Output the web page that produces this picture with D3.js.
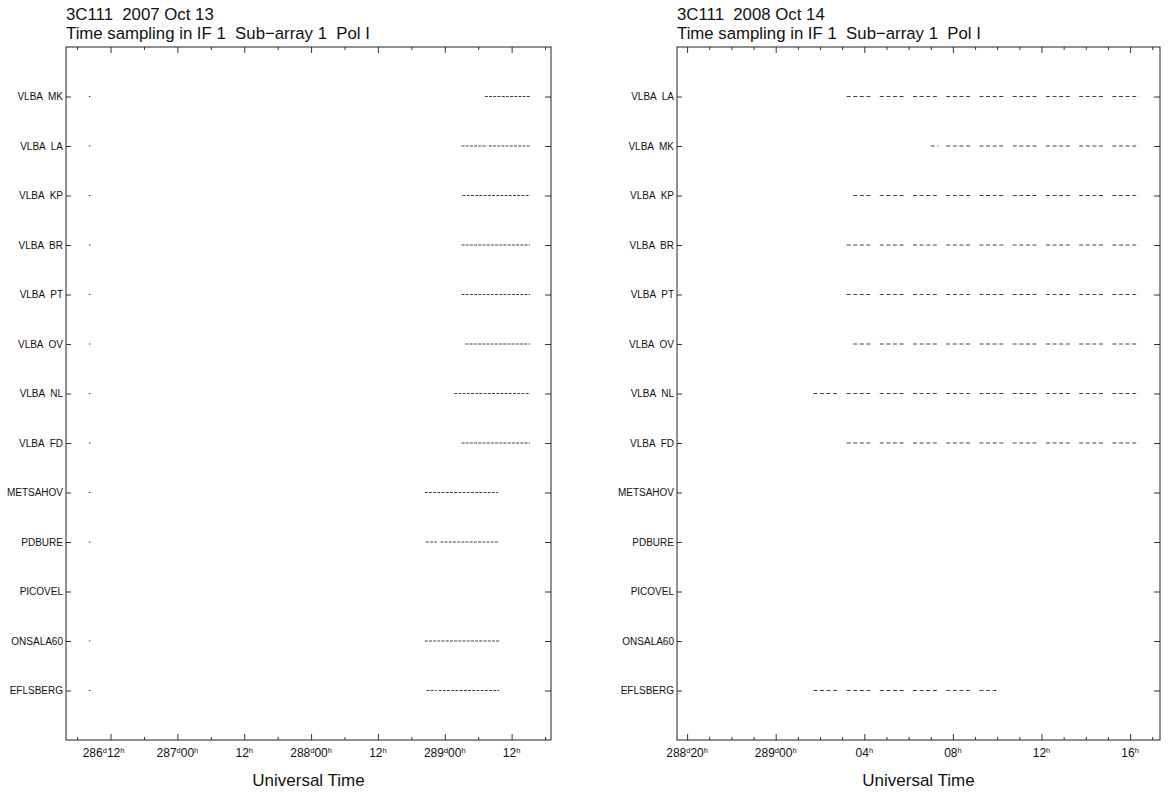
<!DOCTYPE html>
<html>
<head>
<meta charset="utf-8">
<script src="https://cdn.jsdelivr.net/npm/d3@7/dist/d3.min.js"></script>
<style>
body { margin: 0; background: #fff; }
text { font-family: "Liberation Sans", Arial, Helvetica, sans-serif; fill: #111; }
</style>
</head>
<body>
<svg id="chart" width="1171" height="792"></svg>
<script>
// ---- left panel: 2007 Oct 13 (hours counted from day 286 00h) ----
const titles1 = ["3C111  2007 Oct 13", "Time sampling in IF 1  Sub\u2212array 1  Pol I"];
const stations1 = ["VLBA  MK", "VLBA  LA", "VLBA  KP", "VLBA  BR", "VLBA  PT", "VLBA  OV", "VLBA  NL",
                   "VLBA  FD", "METSAHOV", "PDBURE", "PICOVEL", "ONSALA60", "EFLSBERG"];
const scans1 = [
  [[8.1, 8.4], [79.2, 87.3]],
  [[8.1, 8.4], [75.0, 79.6], [79.9, 87.3]],
  [[8.1, 8.4], [75.2, 87.3]],
  [[8.1, 8.4], [75.0, 87.3]],
  [[8.1, 8.4], [75.0, 87.3]],
  [[8.1, 8.4], [75.7, 87.3]],
  [[8.1, 8.4], [73.7, 87.3]],
  [[8.1, 8.4], [75.0, 87.3]],
  [[8.1, 8.4], [68.4, 81.6]],
  [[8.1, 8.4], [68.6, 70.6], [71.2, 81.8]],
  [],
  [[8.1, 8.4], [68.4, 81.8]],
  [[8.1, 8.4], [68.7, 70.5], [70.9, 81.8]]
];
const domain1 = [4, 91.07];
const majorTicks1 = [12, 24, 36, 48, 60, 72, 84];
const tickDays1 = ["286", "287", "", "288", "", "289", ""];
const tickHours1 = ["12", "00", "12", "00", "12", "00", "12"];

// ---- right panel: 2008 Oct 14 (hours counted from day 288 00h) ----
const titles2 = ["3C111  2008 Oct 14", "Time sampling in IF 1  Sub\u2212array 1  Pol I"];
const stations2 = ["VLBA  LA", "VLBA  MK", "VLBA  KP", "VLBA  BR", "VLBA  PT", "VLBA  OV", "VLBA  NL",
                   "VLBA  FD", "METSAHOV", "PDBURE", "PICOVEL", "ONSALA60", "EFLSBERG"];
const scans2 = [
  [[27.2, 28.35], [28.7, 29.85], [30.2, 31.35], [31.7, 32.85], [33.2, 34.35], [34.7, 35.85], [36.2, 37.35], [37.7, 38.85], [39.2, 40.4]],
  [[31.0, 31.35], [31.7, 32.85], [33.2, 34.35], [34.7, 35.85], [36.2, 37.35], [37.7, 38.85], [39.2, 40.4]],
  [[27.5, 28.35], [28.7, 29.85], [30.2, 31.35], [31.7, 32.85], [33.2, 34.35], [34.7, 35.85], [36.2, 37.35], [37.7, 38.85], [39.2, 40.4]],
  [[27.2, 28.35], [28.7, 29.85], [30.2, 31.35], [31.7, 32.85], [33.2, 34.35], [34.7, 35.85], [36.2, 37.35], [37.7, 38.85], [39.2, 40.4]],
  [[27.2, 28.35], [28.7, 29.85], [30.2, 31.35], [31.7, 32.85], [33.2, 34.35], [34.7, 35.85], [36.2, 37.35], [37.7, 38.85], [39.2, 40.4]],
  [[27.5, 28.35], [28.7, 29.85], [30.2, 31.35], [31.7, 32.85], [33.2, 34.35], [34.7, 35.85], [36.2, 37.35], [37.7, 38.85], [39.2, 40.4]],
  [[25.7, 26.85], [27.2, 28.35], [28.7, 29.85], [30.2, 31.35], [31.7, 32.85], [33.2, 34.35], [34.7, 35.85], [36.2, 37.35], [37.7, 38.85], [39.2, 40.4]],
  [[27.2, 28.35], [28.7, 29.85], [30.2, 31.35], [31.7, 32.85], [33.2, 34.35], [34.7, 35.85], [36.2, 37.35], [37.7, 38.85], [39.2, 40.4]],
  [],
  [],
  [],
  [],
  [[25.7, 26.85], [27.2, 28.35], [28.7, 29.85], [30.2, 31.35], [31.7, 32.85], [33.2, 34.1]]
];
const domain2 = [19.544, 41.35];
const majorTicks2 = [20, 24, 28, 32, 36, 40];
const tickDays2 = ["288", "289", "", "", "", ""];
const tickHours2 = ["20", "00", "04", "08", "12", "16"];

const svg = d3.select("#chart");
const H = 693;

// draws one time-sampling panel
function drawPanel(left, width, cfg) {
  let x = d3.scaleLinear().domain(cfg.domain).range([0, width]),
      y = d3.scaleLinear().domain([0, 14]).range([0, H]);

  let g = svg.append("g").attr("transform", `translate(${left},47)`);

  // titles above the frame
  svg.selectAll(null)
    .data(cfg.titles)
    .enter()
    .append("text")
    .attr("x", left)
    .attr("y", (d, i) => 20 + i * 19)
    .style("font-size", "16.8px")
    .style("white-space", "pre")
    .text(d => d);

  // scans
  cfg.scans.forEach((list, i) => {
    g.selectAll(null)
      .data(list)
      .enter()
      .append("line")
      .attr("x1", d => x(d[0]))
      .attr("x2", d => x(d[1]))
      .attr("y1", y(i + 1))
      .attr("y2", y(i + 1))
      .attr("stroke", "#444")
      .attr("stroke-width", 1)
      .attr("stroke-dasharray", cfg.dash);
  });

  // time axes, bottom and top, ticks pointing inward
  let minor = d3.range(Math.ceil(cfg.domain[0] / cfg.minorStep) * cfg.minorStep, cfg.domain[1], cfg.minorStep)
                .filter(t => cfg.major.indexOf(t) < 0);
  [[d3.axisBottom, H], [d3.axisTop, 0]].forEach(([ax, ty]) => {
    g.append("g").attr("transform", `translate(0,${ty})`)
      .call(ax(x).tickValues(cfg.major).tickSize(-6).tickFormat(""))
      .call(a => a.select(".domain").remove());
    g.append("g").attr("transform", `translate(0,${ty})`)
      .call(ax(x).tickValues(minor).tickSize(-3).tickFormat(""))
      .call(a => a.select(".domain").remove());
  });

  // station axes
  let rows = d3.range(1, 14);
  g.append("g")
    .call(d3.axisLeft(y).tickValues(rows).tickSize(-5).tickPadding(3).tickFormat(i => cfg.stations[i - 1]))
    .call(a => a.select(".domain").remove())
    .call(a => a.selectAll("text").style("font-size", "10px").style("white-space", "pre")
                .attr("font-family", null).attr("fill", "#222"));
  g.append("g").attr("transform", `translate(${width},0)`)
    .call(d3.axisRight(y).tickValues(rows).tickSize(-6).tickFormat(""))
    .call(a => a.select(".domain").remove());

  g.selectAll(".tick line").attr("stroke", "#333");

  // frame
  g.append("rect")
    .attr("width", width)
    .attr("height", H)
    .attr("fill", "none")
    .attr("stroke", "#222")
    .attr("stroke-width", 1);

  // day/hour tick labels with superscripts
  let lab = g.selectAll(".tlab")
    .data(cfg.major)
    .enter()
    .append("text")
    .attr("class", "tlab")
    .attr("x", (d, i) => x(d) + (i === 0 ? cfg.firstShift : 0))
    .attr("y", H + 17)
    .attr("text-anchor", "middle")
    .style("font-size", "12px");
  lab.each(function(d, i) {
    let t = d3.select(this);
    if (cfg.days[i]) {
      t.append("tspan").text(cfg.days[i]);
      t.append("tspan").attr("dy", -4).style("font-size", "7.5px").text("d");
      t.append("tspan").attr("dy", 4).text(cfg.hours[i]);
    } else {
      t.append("tspan").text(cfg.hours[i]);
    }
    t.append("tspan").attr("dy", -4).style("font-size", "7.5px").text("h");
  });

  svg.append("text")
    .attr("x", left + width / 2)
    .attr("y", 786)
    .attr("text-anchor", "middle")
    .style("font-size", "17px")
    .text("Universal Time");
}

drawPanel(66, 485, {
  titles: titles1, stations: stations1, scans: scans1, domain: domain1,
  major: majorTicks1, minorStep: 6, days: tickDays1, hours: tickHours1,
  dash: "3,1.2", firstShift: -7
});

drawPanel(677, 483, {
  titles: titles2, stations: stations2, scans: scans2, domain: domain2,
  major: majorTicks2, minorStep: 1, days: tickDays2, hours: tickHours2,
  dash: "4,2.6", firstShift: 0
});
</script>
</body>
</html>
